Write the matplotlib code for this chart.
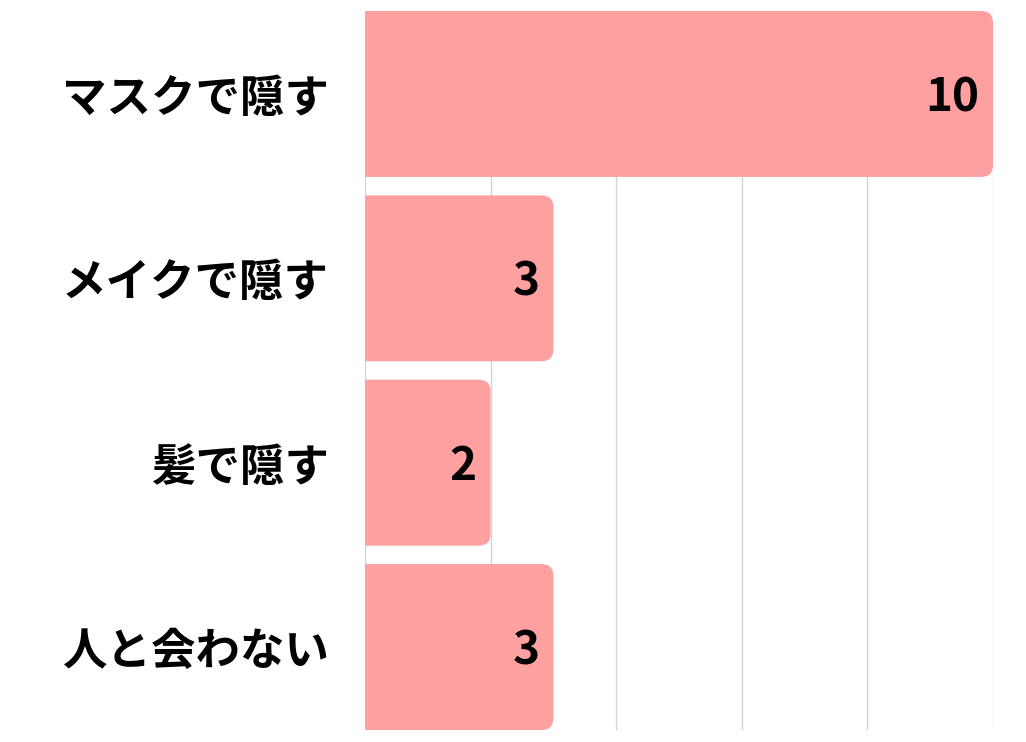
import matplotlib
matplotlib.use("Agg")
import matplotlib.pyplot as plt
from matplotlib.path import Path
from matplotlib.patches import PathPatch

categories = ["マスクで隠す", "メイクで隠す", "髪で隠す", "人と会わない"]
values = [10, 3, 2, 3]
xticks = [0, 2, 4, 6, 8, 10]

plt.rcParams['font.family'] = ['Noto Sans CJK JP', 'DejaVu Sans']

W, H = 1026, 742
fig = plt.figure(figsize=(W / 100, H / 100), dpi=100)
ax = fig.add_axes([365 / W, 12 / H, 628 / W, 719 / H])

ypos = list(range(len(categories)))
bar_h = 0.9
bars = ax.barh(ypos, values, height=bar_h, color="none", zorder=3)
ax.set_xlim(0, 10)
ax.set_ylim(len(categories) - 0.55, -0.45)

# px per data unit
px_x = 628 / 10
px_y = 719 / (len(categories) - 0.1)
r_px = 12
rx = r_px / px_x
ry = r_px / px_y

for b in bars:
    x0 = b.get_x()
    y0 = b.get_y()
    w = b.get_width()
    h = b.get_height()
    x1 = x0 + w
    y1 = y0 + h
    verts = [
        (x0, y0),
        (x1 - rx, y0),
        (x1, y0), (x1, y0 + ry),
        (x1, y1 - ry),
        (x1, y1), (x1 - rx, y1),
        (x0, y1),
        (x0, y0),
    ]
    codes = [Path.MOVETO, Path.LINETO, Path.CURVE3, Path.CURVE3, Path.LINETO,
             Path.CURVE3, Path.CURVE3, Path.LINETO, Path.CLOSEPOLY]
    ax.add_patch(PathPatch(Path(verts, codes), facecolor="#FFA0A0",
                           edgecolor="none", zorder=3))

for y, v in zip(ypos, values):
    ax.annotate(str(v), xy=(v, y), xytext=(-10, -3), textcoords="offset points",
                ha="right", va="center", fontsize=33, fontweight="bold",
                color="black", zorder=4)

ax.set_xticks(xticks)
ax.xaxis.grid(True, color="#d4d4d4", linewidth=1, zorder=0)
ax.tick_params(axis="x", length=0, labelbottom=False)
ax.set_yticks(ypos)
ax.set_yticklabels(categories, fontsize=32, fontweight="bold")
ax.tick_params(axis="y", length=0, pad=26)
for s in ax.spines.values():
    s.set_visible(False)
ax.set_axisbelow(True)

fig.savefig("out.png", dpi=100, facecolor="white")
